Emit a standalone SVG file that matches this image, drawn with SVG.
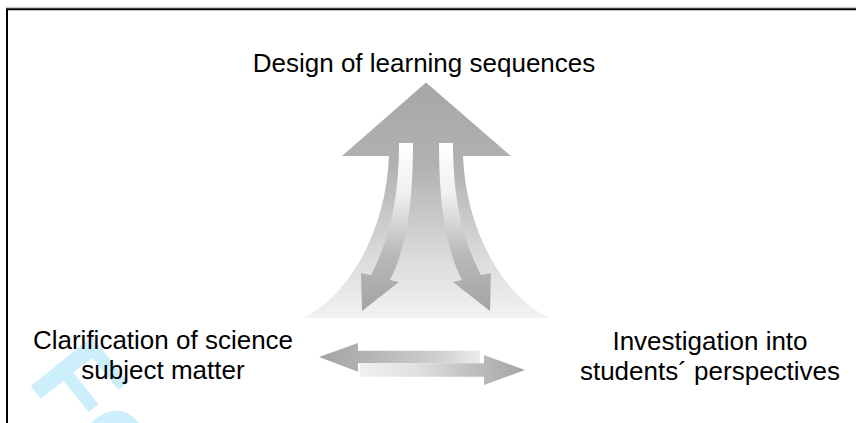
<svg xmlns="http://www.w3.org/2000/svg" width="856" height="423" viewBox="0 0 856 423">
  <style>
    .lbl { font-family: "Liberation Sans", Arial, sans-serif; font-size: 26px; fill: #000; text-anchor: middle; }
    .wm { font-family: "Liberation Sans", Arial, sans-serif; font-size: 114px; font-weight: bold; fill: #cdeefb; }
  </style>
  <defs>
    <linearGradient id="gBig" gradientUnits="userSpaceOnUse" x1="0" y1="82" x2="0" y2="320">
      <stop offset="0" stop-color="#a6a7a9"/>
      <stop offset="0.35" stop-color="#b0b1b3"/>
      <stop offset="0.7" stop-color="#d6d7d9"/>
      <stop offset="1" stop-color="#f3f3f3"/>
    </linearGradient>
    <linearGradient id="gDown" gradientUnits="userSpaceOnUse" x1="0" y1="143" x2="0" y2="311">
      <stop offset="0" stop-color="#ffffff"/>
      <stop offset="0.3" stop-color="#eef0f1"/>
      <stop offset="0.65" stop-color="#b9babc"/>
      <stop offset="1" stop-color="#a2a3a5"/>
    </linearGradient>
    <linearGradient id="gLeft" gradientUnits="userSpaceOnUse" x1="319" y1="0" x2="480" y2="0">
      <stop offset="0" stop-color="#a3a4a6"/>
      <stop offset="0.3" stop-color="#b2b3b5"/>
      <stop offset="0.75" stop-color="#cfd0d2"/>
      <stop offset="1" stop-color="#ececec"/>
    </linearGradient>
    <linearGradient id="gRight" gradientUnits="userSpaceOnUse" x1="358" y1="0" x2="525" y2="0">
      <stop offset="0" stop-color="#f0f0f0"/>
      <stop offset="0.35" stop-color="#e0e0e1"/>
      <stop offset="0.7" stop-color="#bcbdbf"/>
      <stop offset="1" stop-color="#a4a5a7"/>
    </linearGradient>
  </defs>

  <rect x="0" y="0" width="856" height="423" fill="#ffffff"/>

  <!-- frame -->
  <line x1="6" y1="7.3" x2="856" y2="7.3" stroke="#cccccc" stroke-width="1.3"/>
  <path d="M7,423 V9.2 H856" fill="none" stroke="#000000" stroke-width="2"/>

  <!-- watermark -->
  <text class="wm" transform="translate(26,380) rotate(51.3)">Fo</text>

  <g id="connectors">
    <!-- large upward arrow -->
    <path d="M426,82.5 L511,156 L463,156 C466,230 502,295 549,318 L303,318 C350,295 386,230 389,156 L342,156 Z" fill="url(#gBig)"/>
    <!-- left down arrow -->
    <path d="M399,143 L413,143 C413,210 405,250 390,280 L399,282 L362,311 L361,273 L371,275 C385,248 399,210 399,143 Z" fill="url(#gDown)"/>
    <!-- right down arrow -->
    <path d="M453,143 L439,143 C439,210 447,250 462,280 L453,282 L490,311 L491,273 L481,275 C467,248 453,210 453,143 Z" fill="url(#gDown)"/>
    <!-- double arrow: left-pointing half -->
    <path d="M319,357 L358,343 L358,350.7 L480,350.7 L480,363.3 L358,363.3 L358,371.7 Z" fill="url(#gLeft)"/>
    <!-- double arrow: right-pointing half -->
    <path d="M525,370 L484,355 L484,363.3 L360,363.3 L360,376.7 L484,376.7 L484,385 Z" fill="url(#gRight)"/>
  </g>

  <g id="design">
    <text class="lbl" x="424" y="72">Design of learning sequences</text>
  </g>
  <g id="clarification">
    <text class="lbl" x="163" y="349">Clarification of science</text>
    <text class="lbl" x="163" y="379">subject matter</text>
  </g>
  <g id="investigation">
    <text class="lbl" x="710" y="350">Investigation into</text>
    <text class="lbl" x="710" y="380">students´ perspectives</text>
  </g>
</svg>
